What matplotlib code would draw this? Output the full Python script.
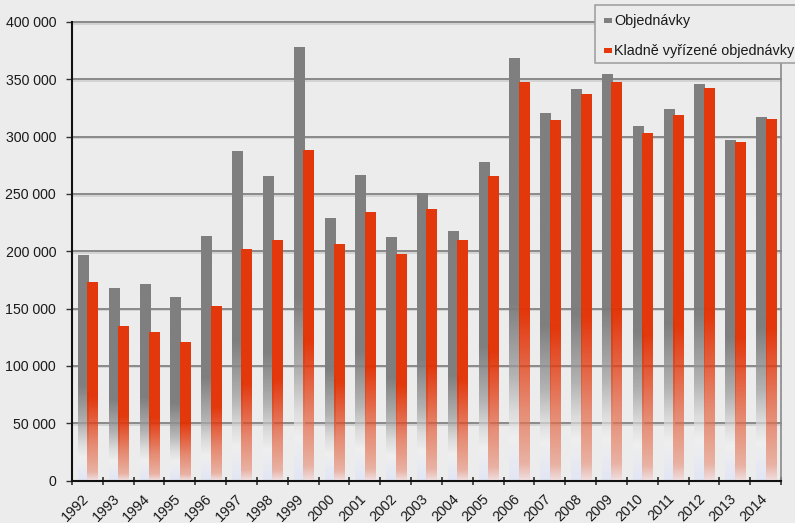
import numpy as np
import matplotlib
matplotlib.use("Agg")
import matplotlib.pyplot as plt
from matplotlib.colors import LinearSegmentedColormap, to_rgb
from matplotlib.patches import Rectangle
import matplotlib.transforms as mtransforms

years = ["1992", "1993", "1994", "1995", "1996", "1997", "1998", "1999", "2000",
         "2001", "2002", "2003", "2004", "2005", "2006", "2007", "2008", "2009",
         "2010", "2011", "2012", "2013", "2014"]
orders = [195600, 166800, 170300, 159000, 212200, 286500, 264600, 377300, 228000,
          265500, 211400, 249800, 216600, 276900, 367700, 319700, 340600, 353700,
          308300, 323100, 345000, 296000, 316200]
accepted = [172000, 133600, 128400, 119700, 151000, 200900, 208700, 287300, 205200,
            233200, 196500, 235800, 208700, 264600, 346700, 313500, 336200, 346700,
            302200, 317900, 341500, 294300, 314400]
series_labels = ["Objednávky", "Kladně vyřízené objednávky"]
yticks = [0, 50000, 100000, 150000, 200000, 250000, 300000, 350000, 400000]

BG = "#ececec"
GRAY = "#7f7f7f"
RED = "#e3380c"

plt.rcParams['font.family'] = ['Liberation Sans', 'DejaVu Sans']

W, H = 795, 523
fig = plt.figure(figsize=(W / 100, H / 100), dpi=100, facecolor=BG)
ax = fig.add_axes([72 / W, 1 - 480.5 / H, (781 - 72) / W, (480.5 - 22) / H])
ax.set_facecolor(BG)

gray_cmap = LinearSegmentedColormap.from_list("g", [
    (0.0, "#e3e7f4"), (0.05, "#e9ebf2"), (0.10, "#efefef"), (0.16, "#dcdcdc"),
    (0.25, "#b2b2b2"), (0.42, GRAY), (1.0, GRAY)])
red_cmap = LinearSegmentedColormap.from_list("r", [
    (0.0, "#efdcdc"), (0.04, "#e9b2a4"), (0.10, "#e8a08c"), (0.18, "#e68a72"),
    (0.30, "#e4603e"), (0.42, RED), (1.0, RED)])


def rgba_gradient(cmap, n=256):
    f = np.linspace(0, 1, n)
    target = cmap(f)[:, :3]
    alpha = np.interp(f, [0.0, 0.22, 0.34, 0.45, 1.0], [0.72, 0.72, 0.86, 1.0, 1.0])
    bg = np.array(to_rgb(BG))
    col = (target - (1 - alpha[:, None]) * bg) / alpha[:, None]
    col = np.clip(col, 0, 1)
    img = np.concatenate([col, alpha[:, None]], axis=1)
    return img.reshape(n, 1, 4)


x = np.arange(len(years))
width = 0.325
b1 = ax.bar(x - 0.145, orders, width, color=GRAY, zorder=2)
b2 = ax.bar(x + 0.16, accepted, width, color=RED, zorder=3)

for bars, cmap, z in ((b1, gray_cmap, 2), (b2, red_cmap, 3)):
    img = rgba_gradient(cmap)
    for r in bars:
        r.set_visible(False)
        x0, w, h = r.get_x(), r.get_width(), r.get_height()
        ax.imshow(img, origin="lower", aspect="auto",
                  extent=[x0, x0 + w, 0, h], zorder=z, interpolation="bilinear")

ax.set_xlim(-0.5, len(years) - 0.5)
ax.set_ylim(0, 400000)

# grid lines with light shadow
ytr = ax.get_yaxis_transform()
shadow = mtransforms.offset_copy(ytr, fig=fig, x=0, y=-1.6, units="dots")
for v in yticks[1:]:
    ax.plot([0, 1], [v, v], color="#cfcfcf", lw=1.2, zorder=1, transform=shadow,
            clip_on=False)
    ax.plot([0, 1], [v, v], color="#8a8a8a", lw=1.4, zorder=1.1, transform=ytr,
            clip_on=False)

ax.set_yticks(yticks)
ax.set_yticklabels([f"{v:,}".replace(",", " ") for v in yticks], fontsize=10.2,
                   color="#1a1a1a")
ax.tick_params(axis="y", length=4, width=1, color="#333333", pad=7.5)

ax.set_xticks(np.arange(len(years) + 1) - 0.5)
ax.set_xticklabels([])
ax.tick_params(axis="x", which="major", length=6, width=1.1, direction="inout",
               color="#222222")
ax.set_xticks(x, minor=True)
ax.set_xticklabels(years, minor=True, rotation=45, ha="right", va="top",
                   fontsize=10.4, color="#1a1a1a")
ax.tick_params(axis="x", which="minor", length=0, pad=8)
for lab in ax.get_xticklabels(minor=True):
    lab.set_transform(lab.get_transform() + mtransforms.ScaledTranslation(4 / 100, 0, fig.dpi_scale_trans))

ax.spines["top"].set_visible(False)
ax.spines["left"].set_color("#111111")
ax.spines["left"].set_linewidth(1.5)
ax.spines["bottom"].set_color("#111111")
ax.spines["bottom"].set_linewidth(1.5)
ax.spines["right"].set_color("#8a8a8a")
ax.spines["right"].set_linewidth(1.2)

# legend (drawn in figure pixel coordinates)
def fx(px):
    return px / W

def fy(py):
    return 1 - py / H

box = Rectangle((fx(595), fy(63)), fx(810) - fx(595), fy(5) - fy(63),
                transform=fig.transFigure, facecolor=BG, edgecolor="#9a9a9a",
                lw=1.1, zorder=5)
fig.add_artist(box)
for (py, col, lab) in ((18.3, GRAY, series_labels[0]), (48.3, RED, series_labels[1])):
    fig.add_artist(Rectangle((fx(604), fy(py + 5)), fx(612) - fx(604), fy(py) - fy(py + 5),
                             transform=fig.transFigure, facecolor=col, lw=0, zorder=6))
    fig.text(fx(614.5), fy(py + 7), lab, fontsize=10.4, color="#1a1a1a",
             va="baseline", ha="left", zorder=6)

fig.savefig("out.png", dpi=100, facecolor=BG)
